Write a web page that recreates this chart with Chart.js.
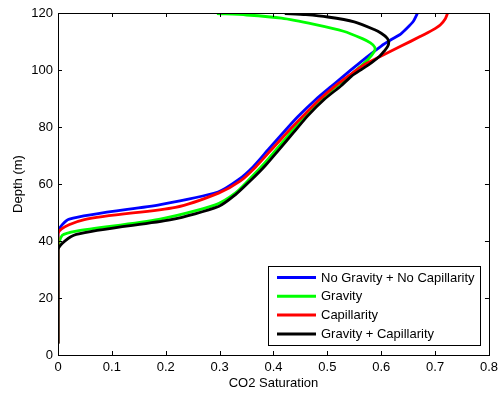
<!DOCTYPE html>
<html>
<head>
<meta charset="utf-8">
<script src="https://cdn.jsdelivr.net/npm/chart.js@4.4.0/dist/chart.umd.min.js"></script>
<style>
  html, body { margin: 0; padding: 0; background: #fff; }
  canvas { display: block; }
</style>
</head>
<body>
<canvas id="satChart" width="503" height="394"></canvas>
<script>
// Series labels
const seriesLabels = ['No Gravity + No Capillarity', 'Gravity', 'Capillarity', 'Gravity + Capillarity'];

// No Gravity + No Capillarity (blue)
const noGravNoCapSat   = [0, 0, 0.021, 0.19, 0.297, 0.335, 0.362, 0.39, 0.418, 0.445, 0.477, 0.512, 0.545, 0.575, 0.60, 0.618, 0.636, 0.648, 0.66, 0.667];
const noGravNoCapDepth = [4, 43, 47.7, 52.8, 57.2, 61.5, 66, 72, 78, 83.6, 89.4, 95, 100.2, 104.8, 108.4, 110.6, 112.6, 114.7, 117.2, 119.8];

// Gravity (green)
const gravSat   = [0, 0, 0.008, 0.034, 0.187, 0.292, 0.329, 0.357, 0.383, 0.407, 0.434, 0.46, 0.49, 0.52, 0.545, 0.56, 0.575, 0.587, 0.588, 0.58, 0.565, 0.53, 0.476, 0.415, 0.35, 0.295];
const gravDepth = [4, 37.5, 42, 43.5, 47.6, 52.7, 56.8, 62, 67.2, 72.5, 78.5, 84.2, 90, 94.8, 98.6, 101, 103.6, 106.5, 108, 109.5, 111, 113.6, 116, 118.2, 119.3, 119.8];

// Capillarity (red)
const capSat   = [0, 0, 0.049, 0.218, 0.298, 0.338, 0.367, 0.396, 0.425, 0.453, 0.483, 0.512, 0.54, 0.57, 0.599, 0.636, 0.673, 0.695, 0.71, 0.719, 0.723];
const capDepth = [4, 42.6, 47.5, 51.8, 56.8, 61, 66, 72, 78, 83.5, 89.2, 94, 98, 102, 104.8, 108.3, 111.8, 114, 115.9, 118, 119.8];

// Gravity + Capillarity (black)
const gravCapSat   = [0, 0, 0.034, 0.21, 0.298, 0.329, 0.359, 0.385, 0.41, 0.437, 0.464, 0.495, 0.525, 0.544, 0.565, 0.581, 0.597, 0.605, 0.612, 0.614, 0.611, 0.60, 0.587, 0.55, 0.501, 0.46, 0.421];
const gravCapDepth = [4, 36.9, 42.3, 47.5, 52.1, 56.2, 61.5, 66.5, 72, 78, 84, 89.8, 94.4, 97.7, 100.4, 102.4, 104.8, 106.5, 108.3, 109.8, 111.2, 112.9, 114.2, 116.9, 118.6, 119.4, 119.8];

// Tick labels
const xTicks = [0, 0.1, 0.2, 0.3, 0.4, 0.5, 0.6, 0.7, 0.8];
const yTicks = [0, 20, 40, 60, 80, 100, 120];

const FONT = "'Liberation Sans', Arial, Helvetica, sans-serif";

function toPoints(sat, depth) {
    return sat.map((s, i) => ({ x: s, y: depth[i] }));
}

// box + inward ticks, MATLAB style
const boxTicksPlugin = {
    id: 'boxTicks',
    afterDraw(chart) {
        const ctx = chart.ctx;
        const a = chart.chartArea;
        const xs = chart.scales.x;
        const ys = chart.scales.y;
        const len = 4;
        ctx.save();
        ctx.strokeStyle = '#000';
        ctx.lineWidth = 1;
        ctx.beginPath();
        xTicks.forEach(v => {
            const px = Math.round(xs.getPixelForValue(v)) + 0.5;
            ctx.moveTo(px, a.bottom);
            ctx.lineTo(px, a.bottom - len);
            ctx.moveTo(px, a.top);
            ctx.lineTo(px, a.top + len);
        });
        yTicks.forEach(v => {
            const py = Math.round(ys.getPixelForValue(v)) + 0.5;
            ctx.moveTo(a.left, py);
            ctx.lineTo(a.left + len, py);
            ctx.moveTo(a.right, py);
            ctx.lineTo(a.right - len, py);
        });
        ctx.stroke();
        ctx.strokeRect(Math.round(a.left) + 0.5, Math.round(a.top) + 0.5,
            Math.round(a.right - a.left), Math.round(a.bottom - a.top));
        ctx.restore();
    }
};

// legend inside the plot, bottom right
const insideLegendPlugin = {
    id: 'insideLegend',
    afterDraw(chart) {
        const ctx = chart.ctx;
        const a = chart.chartArea;
        const sets = chart.data.datasets;
        ctx.save();
        ctx.font = '13px ' + FONT;
        let maxW = 0;
        sets.forEach(ds => { maxW = Math.max(maxW, ctx.measureText(ds.label).width); });
        const lineX0 = 9, lineLen = 39, textGap = 5, rowH = 18.8;
        const w = Math.round(lineX0 + lineLen + textGap + maxW + 5);
        const h = Math.round(rowH * sets.length + 4);
        const left = Math.round(a.right - 9 - w);
        const top = Math.round(a.bottom - 10 - h);
        ctx.fillStyle = '#fff';
        ctx.fillRect(left, top, w, h);
        ctx.strokeStyle = '#000';
        ctx.lineWidth = 1;
        ctx.strokeRect(left + 0.5, top + 0.5, w, h);
        sets.forEach((ds, i) => {
            const cy = top + 11.5 + i * rowH;
            ctx.strokeStyle = ds.borderColor;
            ctx.lineWidth = 3;
            ctx.beginPath();
            ctx.moveTo(left + lineX0, cy);
            ctx.lineTo(left + lineX0 + lineLen, cy);
            ctx.stroke();
            ctx.fillStyle = '#000';
            ctx.textBaseline = 'middle';
            ctx.textAlign = 'left';
            ctx.fillText(ds.label, left + lineX0 + lineLen + textGap, cy + 0.5);
        });
        ctx.restore();
    }
};

function makeDataset(label, sat, depth, color, order) {
    return {
        label: label,
        data: toPoints(sat, depth),
        borderColor: color,
        backgroundColor: color,
        borderWidth: 2.8,
        pointRadius: 0,
        showLine: true,
        tension: 0.25,
        order: order
    };
}

new Chart(document.getElementById('satChart'), {
    type: 'scatter',
    data: {
        datasets: [
            makeDataset(seriesLabels[0], noGravNoCapSat, noGravNoCapDepth, '#0000ff', 3),
            makeDataset(seriesLabels[1], gravSat, gravDepth, '#00ff00', 2),
            makeDataset(seriesLabels[2], capSat, capDepth, '#ff0000', 1),
            makeDataset(seriesLabels[3], gravCapSat, gravCapDepth, '#000000', 0)
        ]
    },
    options: {
        responsive: false,
        animation: false,
        layout: { padding: { top: 13, right: 11, left: 0, bottom: 0 } },
        plugins: {
            legend: { display: false },
            tooltip: { enabled: false }
        },
        scales: {
            x: {
                type: 'linear',
                min: 0,
                max: 0.8,
                afterBuildTicks: s => { s.ticks = xTicks.map(v => ({ value: v })); },
                afterFit: s => { s.height = 39; },
                grid: { display: false, drawTicks: false },
                border: { display: false },
                ticks: {
                    font: { family: FONT, size: 13 },
                    color: '#000',
                    padding: 5,
                    maxRotation: 0,
                    callback: v => String(v)
                },
                title: {
                    display: true,
                    text: 'CO2 Saturation',
                    font: { family: FONT, size: 13 },
                    color: '#000',
                    padding: { top: 0, bottom: 3 }
                }
            },
            y: {
                type: 'linear',
                min: 0,
                max: 120,
                afterBuildTicks: s => { s.ticks = yTicks.map(v => ({ value: v })); },
                afterFit: s => { s.width = 58; },
                grid: { display: false, drawTicks: false },
                border: { display: false },
                ticks: {
                    font: { family: FONT, size: 13 },
                    color: '#000',
                    padding: 5,
                    callback: v => String(v)
                },
                title: {
                    display: true,
                    text: 'Depth (m)',
                    font: { family: FONT, size: 13 },
                    color: '#000',
                    padding: { top: 11, bottom: 0 }
                }
            }
        }
    },
    plugins: [boxTicksPlugin, insideLegendPlugin]
});
</script>
</body>
</html>
